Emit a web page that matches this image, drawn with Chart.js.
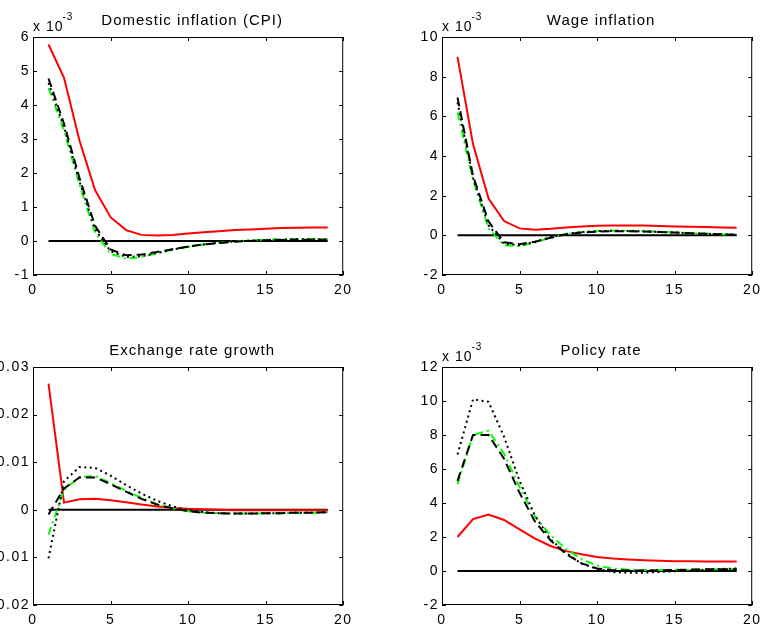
<!DOCTYPE html>
<html>
<head>
<meta charset="utf-8">
<script src="https://cdn.jsdelivr.net/npm/chart.js@4"></script>
<style>
html, body { margin: 0; padding: 0; background: #fff; }
body { width: 765px; height: 624px; overflow: hidden; position: relative; }
canvas { position: absolute; }
</style>
</head>
<body>
<canvas id="cpi"></canvas>
<canvas id="wage"></canvas>
<canvas id="fx"></canvas>
<canvas id="policy"></canvas>
<script>
// impulse responses, horizon 1..19
const periods = [1, 2, 3, 4, 5, 6, 7, 8, 9, 10, 11, 12, 13, 14, 15, 16, 17, 18, 19];
const zeroLine = [0, 0, 0, 0, 0, 0, 0, 0, 0, 0, 0, 0, 0, 0, 0, 0, 0, 0, 0];

// Domestic inflation (CPI), x 10^-3
const cpiRed    = [5.78, 4.8, 2.95, 1.5, 0.7, 0.32, 0.18, 0.16, 0.18, 0.22, 0.26, 0.29, 0.32, 0.34, 0.36, 0.38, 0.39, 0.4, 0.4];
const cpiDashed = [4.78, 3.45, 1.85, 0.45, -0.25, -0.42, -0.4, -0.32, -0.24, -0.16, -0.1, -0.06, -0.02, 0.0, 0.02, 0.03, 0.04, 0.04, 0.04];
const cpiDotted = [4.65, 3.35, 1.75, 0.35, -0.3, -0.47, -0.45, -0.35, -0.25, -0.17, -0.1, -0.05, -0.01, 0.01, 0.03, 0.04, 0.05, 0.05, 0.05];
const cpiGreen  = [4.5, 3.25, 1.65, 0.25, -0.38, -0.52, -0.47, -0.36, -0.26, -0.17, -0.1, -0.05, -0.01, 0.02, 0.04, 0.05, 0.06, 0.06, 0.06];

// Wage inflation, x 10^-3
const wageRed    = [9.0, 4.6, 1.85, 0.72, 0.35, 0.28, 0.33, 0.4, 0.45, 0.48, 0.5, 0.5, 0.49, 0.47, 0.45, 0.43, 0.42, 0.4, 0.38];
const wageDashed = [6.95, 3.0, 0.7, -0.35, -0.45, -0.32, -0.12, 0.05, 0.14, 0.19, 0.21, 0.21, 0.19, 0.17, 0.14, 0.11, 0.08, 0.05, 0.03];
const wageDotted = [6.7, 2.9, 0.5, -0.42, -0.5, -0.33, -0.1, 0.07, 0.16, 0.21, 0.23, 0.22, 0.2, 0.17, 0.14, 0.11, 0.08, 0.05, 0.03];
const wageGreen  = [6.2, 2.8, 0.35, -0.5, -0.55, -0.36, -0.12, 0.06, 0.16, 0.21, 0.23, 0.23, 0.21, 0.18, 0.15, 0.11, 0.08, 0.05, 0.03];

// Exchange rate growth
const fxRed    = [0.0265, 0.0015, 0.0022, 0.0023, 0.002, 0.0016, 0.0011, 0.0007, 0.0004, 0.0002, 0.0001, 0, -0.0001, -0.0001, -0.0001, -0.0001, -0.0001, -0.0001, -0.0001];
const fxDashed = [-0.001, 0.0045, 0.0068, 0.0068, 0.0054, 0.0038, 0.0023, 0.0011, 0.0003, -0.0003, -0.0006, -0.0007, -0.0008, -0.0008, -0.0007, -0.0007, -0.0006, -0.0006, -0.0005];
const fxDotted = [-0.0102, 0.006, 0.009, 0.0088, 0.0072, 0.0052, 0.0034, 0.0019, 0.0007, -0.0001, -0.0005, -0.0007, -0.0008, -0.0008, -0.0007, -0.0007, -0.0006, -0.0006, -0.0005];
const fxGreen  = [-0.0052, 0.0042, 0.0069, 0.0071, 0.0056, 0.004, 0.0025, 0.0012, 0.0003, -0.0003, -0.0006, -0.0007, -0.0008, -0.0008, -0.0007, -0.0007, -0.0006, -0.0006, -0.0005];

// Policy rate, x 10^-3
const polRed    = [2.0, 3.05, 3.32, 3.0, 2.45, 1.9, 1.47, 1.17, 0.98, 0.83, 0.73, 0.67, 0.63, 0.6, 0.58, 0.57, 0.56, 0.56, 0.56];
const polDashed = [5.3, 8.0, 8.0, 6.6, 4.6, 2.9, 1.8, 1.0, 0.45, 0.15, 0.05, 0.03, 0.03, 0.04, 0.06, 0.08, 0.1, 0.1, 0.1];
const polDotted = [6.85, 10.1, 9.95, 7.9, 5.3, 3.25, 1.85, 1.05, 0.43, 0.12, -0.06, -0.1, -0.1, -0.06, -0.02, 0.03, 0.08, 0.12, 0.15];
const polGreen  = [5.1, 8.0, 8.25, 6.9, 4.95, 3.2, 2.1, 1.3, 0.7, 0.32, 0.15, 0.08, 0.06, 0.06, 0.07, 0.08, 0.1, 0.11, 0.12];

const FONT = '"Liberation Sans", Arial, Helvetica, sans-serif';
Chart.defaults.font.family = FONT;
Chart.defaults.font.size = 14;
Chart.defaults.color = '#000';

const PAD_L = 60, PAD_T = 40, PAD_R = 14, PAD_B = 30;

// box, inward ticks, title and exponent, matlab style
const frame = {
  id: 'frame',
  beforeDraw(chart) {
    chart.ctx.letterSpacing = '1.5px';
  },
  afterDraw(chart, args, opts) {
    const { ctx, chartArea: a, scales } = chart;
    ctx.save();
    ctx.strokeStyle = '#000';
    ctx.lineWidth = 1;
    ctx.strokeRect(a.left + 0.5, a.top + 0.5, a.right - a.left - 1, a.bottom - a.top - 1);
    ctx.beginPath();
    scales.x.ticks.forEach((t, i) => {
      const px = Math.round(scales.x.getPixelForTick(i)) + 0.5;
      ctx.moveTo(px, a.top); ctx.lineTo(px, a.top + 4);
      ctx.moveTo(px, a.bottom); ctx.lineTo(px, a.bottom - 4);
    });
    scales.y.ticks.forEach((t, i) => {
      const py = Math.round(scales.y.getPixelForTick(i)) + 0.5;
      ctx.moveTo(a.left, py); ctx.lineTo(a.left + 4, py);
      ctx.moveTo(a.right, py); ctx.lineTo(a.right - 4, py);
    });
    ctx.stroke();

    ctx.fillStyle = '#000';
    ctx.letterSpacing = '1px';
    ctx.font = '15px ' + FONT;
    ctx.textAlign = 'center';
    ctx.textBaseline = 'alphabetic';
    ctx.fillText(opts.title, (a.left + a.right) / 2 + 4, a.top - 12);
    if (opts.exponent) {
      ctx.textAlign = 'left';
      ctx.font = '14px ' + FONT;
      ctx.fillText('x 10', a.left, a.top - 6);
      const w = ctx.measureText('x 10').width;
      ctx.font = '10px ' + FONT;
      ctx.fillText(opts.exponent, a.left + w - 1, a.top - 17);
    }
    ctx.restore();
  }
};

function pts(vals) {
  return periods.map((p, i) => ({ x: p, y: vals[i] }));
}

function makePanel(id, box, title, exponent, y, red, dashed, dotted, green) {
  const cv = document.getElementById(id);
  cv.width = PAD_L + box.w + PAD_R;
  cv.height = PAD_T + box.h + PAD_B;
  cv.style.left = (box.left - PAD_L) + 'px';
  cv.style.top = (box.top - PAD_T) + 'px';

  new Chart(cv, {
    type: 'line',
    data: {
      datasets: [
        { data: pts(dotted), borderColor: '#000', borderWidth: 2, borderDash: [2, 3.5] },
        { data: pts(dashed), borderColor: '#000', borderWidth: 2, borderDash: [9, 5] },
        { data: pts(green), borderColor: '#00ff00', borderWidth: 2, borderDash: [8, 4, 2, 4] },
        { data: pts(red), borderColor: '#ff0000', borderWidth: 2 },
        { data: pts(zeroLine), borderColor: '#000', borderWidth: 2 }
      ]
    },
    options: {
      responsive: false,
      animation: false,
      events: [],
      devicePixelRatio: 1,
      layout: { padding: { left: 0, top: PAD_T, right: PAD_R, bottom: 0 } },
      elements: { point: { radius: 0 }, line: { tension: 0, fill: false } },
      scales: {
        x: {
          type: 'linear',
          min: 0, max: 20,
          grid: { display: false, drawTicks: false },
          border: { display: false },
          ticks: { stepSize: 5, padding: 7, maxRotation: 0 },
          afterFit(s) { s.height = PAD_B; }
        },
        y: {
          min: y.min, max: y.max,
          grid: { display: false, drawTicks: false },
          border: { display: false },
          ticks: { stepSize: y.step, padding: 3, callback: y.fmt },
          afterFit(s) { s.width = PAD_L; }
        }
      },
      plugins: {
        legend: { display: false },
        tooltip: { enabled: false },
        frame: { title: title, exponent: exponent }
      }
    },
    plugins: [frame]
  });
}

const intFmt = v => String(Math.round(v));
const decFmt = v => Math.abs(v) < 1e-9 ? '0' : v.toFixed(2);

makePanel('cpi', { left: 33, top: 37, w: 311, h: 238 }, 'Domestic inflation (CPI)', '-3',
  { min: -1, max: 6, step: 1, fmt: intFmt }, cpiRed, cpiDashed, cpiDotted, cpiGreen);
makePanel('wage', { left: 442, top: 37, w: 311, h: 238 }, 'Wage inflation', '-3',
  { min: -2, max: 10, step: 2, fmt: intFmt }, wageRed, wageDashed, wageDotted, wageGreen);
makePanel('fx', { left: 33, top: 367, w: 311, h: 238 }, 'Exchange rate growth', null,
  { min: -0.02, max: 0.03, step: 0.01, fmt: decFmt }, fxRed, fxDashed, fxDotted, fxGreen);
makePanel('policy', { left: 442, top: 367, w: 311, h: 238 }, 'Policy rate', '-3',
  { min: -2, max: 12, step: 2, fmt: intFmt }, polRed, polDashed, polDotted, polGreen);
</script>
</body>
</html>
